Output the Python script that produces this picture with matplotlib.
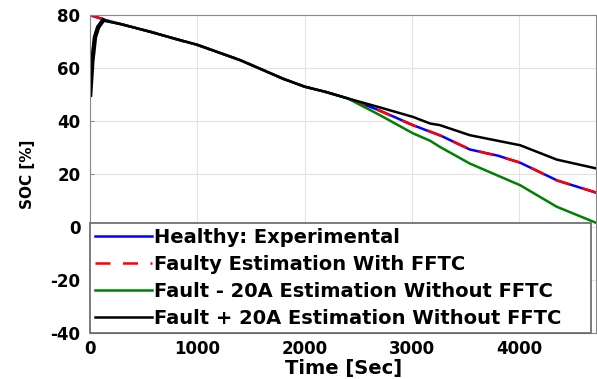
import matplotlib.pyplot as plt

plt.rcParams['font.family'] = ['DejaVu Sans']
plt.rcParams['font.weight'] = 'bold'
plt.rcParams['axes.unicode_minus'] = False

# Healthy: experimental SOC
t_healthy = [0, 140, 300, 580, 800, 1000, 1400, 1800, 2000, 2200, 2400,
             2700, 3010, 3170, 3260, 3540, 3800, 4010, 4350, 4725]
soc_healthy = [80, 78.2, 76.5, 73.5, 71, 68.8, 63, 56, 53, 51, 48.6,
               44, 38.5, 36, 34.7, 29.3, 27, 24.3, 17.7, 12.9]

# Faulty estimation with FFTC (tracks healthy)
t_ffct = t_healthy
soc_ffct = [80, 78.3, 76.4, 73.6, 70.9, 68.7, 63.1, 55.9, 53.1, 50.9, 48.7,
            43.9, 38.4, 36.1, 34.6, 29.4, 26.8, 24.4, 17.6, 13.0]

# Fault -20A estimation without FFTC
t_minus = [0, 20, 45, 75, 120, 300, 580, 800, 1000, 1400, 1800, 2000, 2200, 2400,
           2700, 3010, 3170, 3260, 3540, 4010, 4350, 4725]
soc_minus = [50, 62.6, 71.7, 75.5, 78, 76.5, 73.5, 71, 68.8, 63, 56, 53, 51, 48.6,
             42.3, 35.4, 32.6, 30.3, 24, 15.8, 7.7, 1.5]

# Fault +20A estimation without FFTC
t_plus = t_minus
soc_plus = [50, 62.6, 71.7, 75.5, 78, 76.5, 73.5, 71, 68.8, 63, 56, 53, 51, 48.6,
            45.2, 41.6, 39.1, 38.5, 34.7, 30.9, 25.5, 22.1]

labels = ['Healthy: Experimental', 'Faulty Estimation With FFTC',
          'Fault - 20A Estimation Without FFTC', 'Fault + 20A Estimation Without FFTC']

fig = plt.figure(figsize=(5.97, 3.79), dpi=100)
ax = fig.add_axes([0.151, 0.121, 0.848, 0.839])

ax.plot(t_healthy, soc_healthy, color='#0000ff', lw=1.8, label=labels[0])
ax.plot(t_ffct, soc_ffct, color='#ff0000', lw=1.8, ls=(0, (6, 5)), label=labels[1])
ax.plot(t_minus, soc_minus, color='#008000', lw=1.8, label=labels[2])
ax.plot(t_plus, soc_plus, color='black', lw=1.8, label=labels[3])
# initial convergence part looks heavier
ax.plot(t_plus[:5], soc_plus[:5], color='black', lw=3.2)

ax.set_xlim(0, 4720)
ax.set_ylim(-40, 80)
ax.set_xticks([0, 1000, 2000, 3000, 4000])
ax.set_yticks([-40, -20, 0, 20, 40, 60, 80])
ax.grid(True, color='#e3e3e3', lw=0.8)
ax.tick_params(direction='in', labelsize=12, length=3, color='#888888')
ax.tick_params(axis='y', pad=7)
ax.tick_params(axis='x', pad=5)
for s in ax.spines.values():
    s.set_color('#888888')
ax.set_xlabel('Time [Sec]', fontsize=14, fontweight='bold', labelpad=1)
ax.set_ylabel('SOC [%]', fontsize=11, fontweight='bold', labelpad=11)

leg = ax.legend(loc='lower left', bbox_to_anchor=(0, 0, 0.99, 0.35), mode='expand',
                borderaxespad=0, fontsize=14, handlelength=2.93, handletextpad=0.12,
                labelspacing=0.42, fancybox=False, framealpha=1,
                edgecolor='#666666', borderpad=0.25)
leg.get_frame().set_linewidth(1.2)

fig.savefig('out.png', dpi=100)
